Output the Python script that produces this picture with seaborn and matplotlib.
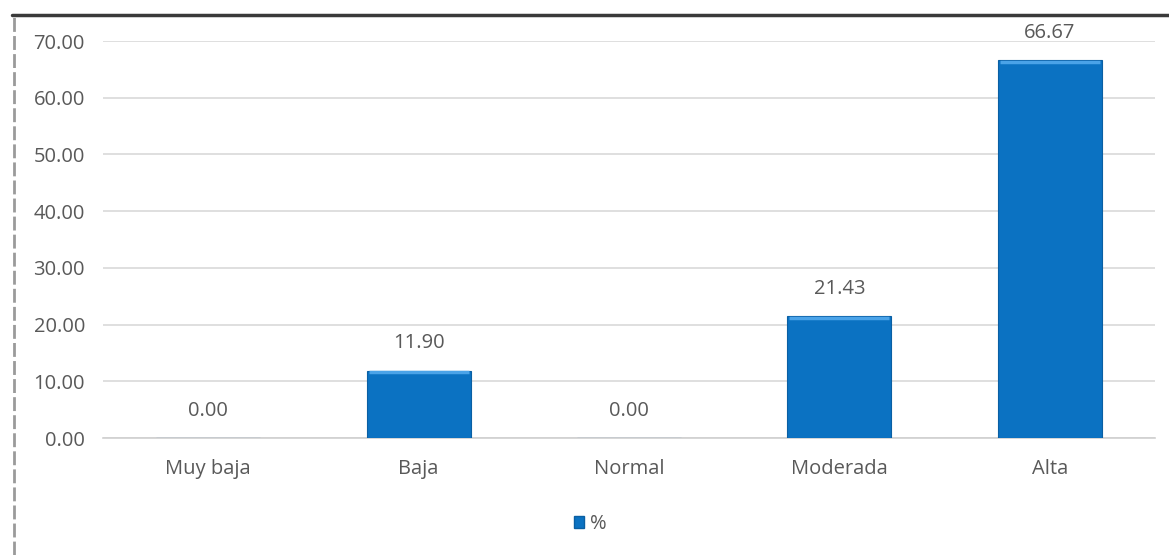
import matplotlib
matplotlib.use("Agg")
import matplotlib.pyplot as plt
import seaborn as sns
import pandas as pd
from matplotlib.lines import Line2D
from matplotlib.patches import Patch

categories = ["Muy baja", "Baja", "Normal", "Moderada", "Alta"]
values = [0.00, 11.90, 0.00, 21.43, 66.67]
yticks = [0, 10, 20, 30, 40, 50, 60, 70]
series_name = "%"

sns.set_theme(style="white")
plt.rcParams["font.family"] = ["Open Sans", "DejaVu Sans"]

df = pd.DataFrame({"nivel": categories, "pct": values})

bar_color = "#0b72c2"
text_color = "#595959"
fs = 14.5

fig = plt.figure(figsize=(11.69, 5.55), dpi=100)
ax = fig.add_axes([103 / 1169, 1 - 438 / 555, (1155 - 103) / 1169, (438 - 41) / 555])

sns.barplot(data=df, x="nivel", y="pct", color=bar_color, width=0.495,
            saturation=1, ax=ax, zorder=3, edgecolor="#0a5fa3", linewidth=0.8)

# light bevel along the top edge of each bar
for p in ax.patches:
    if p.get_height() > 0:
        x0, w, h = p.get_x(), p.get_width(), p.get_height()
        ax.plot([x0 + 0.01, x0 + w - 0.01], [h - 0.35, h - 0.35],
                color="#4aa3e8", lw=2.5, zorder=4, solid_capstyle="butt")

ax.set_ylim(0, 70)
ax.set_xlim(-0.5, len(categories) - 0.5)
ax.set_yticks(yticks)
ax.set_yticklabels([f"{t:.2f}" for t in yticks], color=text_color, fontsize=fs)
ax.tick_params(axis="y", length=0, pad=13)
ax.tick_params(axis="x", length=0, pad=15, labelsize=fs, labelcolor=text_color)
ax.set_xlabel("")
ax.set_ylabel("")
ax.grid(axis="y", color="#d9d9d9", lw=1.2, zorder=0)
ax.set_axisbelow(True)
for s in ["top", "right", "left"]:
    ax.spines[s].set_visible(False)
ax.spines["bottom"].set_color("#d0d0d0")
ax.spines["bottom"].set_linewidth(1.2)

for i, v in enumerate(values):
    ax.annotate(f"{v:.2f}", (i, v), xytext=(0, 19.5), textcoords="offset points",
                ha="center", va="center", fontsize=fs, color=text_color,
                annotation_clip=False, zorder=5)

handle = Patch(facecolor=bar_color, edgecolor="#0a5fa3")
fig.legend([handle], [series_name], loc="center", bbox_to_anchor=(590 / 1169, 1 - 524 / 555),
           frameon=False, fontsize=fs, labelcolor=text_color, handlelength=0.5,
           handleheight=0.5, handletextpad=0.3)

# outer frame: dark rule along the top, gray rule down the left side
fig.add_artist(Line2D([12 / 1169, 1.0], [1 - 15 / 555, 1 - 15 / 555], color="#3a3a3a", lw=2.5))
fig.add_artist(Line2D([14 / 1169, 14 / 1169], [0.0, 1 - 15 / 555], color="#9a9a9a", lw=2.0,
                      ls=(0, (5, 1.5))))

fig.savefig("out.png", dpi=100, facecolor="white")
